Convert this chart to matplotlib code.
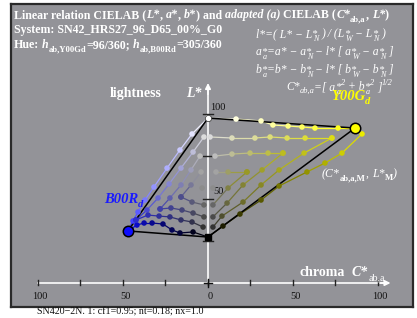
import matplotlib
matplotlib.use('Agg')
import matplotlib.pyplot as plt
from matplotlib.transforms import IdentityTransform
from matplotlib.collections import LineCollection
import numpy as np

W_PX, H_PX = 417, 318
SERIF = 'Liberation Serif'

# ---------------- data (C*ab,a ; L*) ----------------
# corner colours
W_pt = (0.0, 97.6)
N_pt = (0.0, 27.2)
Y_pt = (86.5, 91.7)
B_pt = (-47.1, 30.8)

# yellow hue (Y00Gd): rows from light greys, diagonals from dark greys
yR1_C = [0.0, 16.5, 31.2, 38.2, 47.1, 55.3, 62.9, 76.5, 86.5]
yR1_L = [97.6, 97.0, 95.9, 93.5, 92.9, 92.3, 91.7, 91.7, 91.7]
yR2_C = [1.2, 14.1, 27.6, 36.5, 46.5, 57.1, 72.9]
yR2_L = [86.4, 85.8, 85.8, 86.4, 85.8, 85.8, 85.8]
yR3_C = [4.1, 14.1, 24.7, 35.3, 44.1]
yR3_L = [75.1, 76.3, 76.9, 76.9, 76.9]
yR4_C = [4.7, 11.8, 22.9]
yR4_L = [65.7, 65.7, 65.7]
yD1_C = [0.0, 8.8, 18.8, 31.2, 41.8, 58.2, 68.8, 78.8, 90.6]
yD1_L = [27.2, 33.7, 40.8, 49.1, 57.4, 65.7, 71.0, 76.9, 88.2]
yD2_C = [2.9, 8.2, 20.6, 31.2, 41.8, 56.5, 72.9]
yD2_L = [33.1, 39.6, 47.9, 58.0, 66.9, 76.9, 85.8]
yD3_C = [2.9, 11.2, 20.6, 31.8, 44.1]
yD3_L = [39.1, 47.3, 58.0, 66.9, 76.9]
yD4_C = [2.9, 11.8, 22.9]
yD4_L = [46.2, 56.2, 65.7]

# blue hue (B00Rd)
bR1_C = [0.0, -9.4, -16.5, -24.1, -31.8, -37.1, -41.2, -44.1, -47.1]
bR1_L = [97.6, 88.2, 78.7, 68.0, 56.8, 49.1, 42.0, 36.7, 30.8]
bR2_C = [-2.4, -8.8, -15.9, -22.9, -29.4, -35.9, -42.4]
bR2_L = [86.4, 77.5, 68.0, 58.6, 50.3, 43.2, 37.3]
bR3_C = [-4.7, -10.0, -15.9, -22.4, -28.2]
bR3_L = [75.1, 66.9, 58.0, 50.3, 43.8]
bR4_C = [-4.1, -10.0, -15.9]
bR4_L = [65.7, 58.0, 50.9]
bD1_C = [0.0, -8.8, -16.5, -21.2, -26.5, -32.9, -37.6, -41.8, -45.3]
bD1_L = [27.2, 30.2, 29.6, 31.4, 34.9, 35.5, 35.5, 34.3, 32.0]
bD2_C = [-2.9, -9.4, -15.9, -22.4, -28.8, -35.3, -42.4]
bD2_L = [33.1, 36.1, 37.3, 39.1, 39.6, 40.2, 37.3]
bD3_C = [-2.4, -8.8, -15.3, -21.8, -28.2]
bD3_L = [39.1, 41.4, 43.2, 44.4, 43.8]
bD4_C = [-2.4, -9.4, -15.9]
bD4_L = [46.2, 47.9, 50.9]

mid_grey_C = [2.9, -3.5]
mid_grey_L = [56.2, 56.2]

x_ticks = [-100, -75, -50, -25, 0, 25, 50, 75, 100]
x_tick_labels = {-100: '100', -50: '50', 0: '0', 50: '50', 100: '100'}
y_ticks = [25, 50, 75, 100]
y_tick_labels = {50: '50', 100: '100'}

# ---------------- figure ----------------
fig = plt.figure(figsize=(W_PX / 100, H_PX / 100), dpi=100)
fig.patch.set_facecolor('white')
ax = fig.add_axes([11 / W_PX, (H_PX - 307) / H_PX, (413 - 11) / W_PX, (307 - 4) / H_PX])
ax.set_facecolor('#939398')
ax.set_xlim((11 - 208) / 1.7, (413 - 208) / 1.7)
ax.set_ylim((283 - 307) / 1.69, (283 - 4) / 1.69)
ax.set_xticks([])
ax.set_yticks([])
for sp in ax.spines.values():
    sp.set_color('#2a2a2a')
    sp.set_linewidth(1.6)

# axes
ax.plot([-100, 104], [0, 0], color='white', lw=1.2, zorder=2)
ax.annotate('', xy=(109, 0), xytext=(100, 0),
            arrowprops=dict(arrowstyle='-|>', color='white', lw=1.2, mutation_scale=8), zorder=2)
ax.plot([0, 0], [0, 114], color='white', lw=1.2, zorder=2)
ax.annotate('', xy=(0, 120), xytext=(0, 110),
            arrowprops=dict(arrowstyle='-|>', color='white', lw=1.2, mutation_scale=8), zorder=2)
for t in x_ticks:
    ax.plot([t, t], [-1.4, 1.6], color='#222222', lw=1.0, zorder=3)
    if t in x_tick_labels:
        ax.text(t + 1.2, -7.8, x_tick_labels[t], ha='center', va='center', fontsize=7.5,
                family=SERIF, color='#111111')
for t in y_ticks:
    ax.plot([-3.0, 3.0], [t, t], color='#222222', lw=1.0, zorder=3)
    if t in y_tick_labels:
        ax.text(1.3 if t == 100 else 3.0, t + 1.4, y_tick_labels[t], ha='left', va='bottom',
                fontsize=7.5, family=SERIF, color='#111111')
ax.plot([-2.5, 2.5], [0, 0], color='#111111', lw=1.0, zorder=3)
ax.plot([0, 0], [-2.5, 2.5], color='#111111', lw=1.0, zorder=3)


def grey(v):
    return (v, v, v)


def lattice_line(Cs, Ls, c0, c1, lw=0.9):
    Cs = np.asarray(Cs); Ls = np.asarray(Ls)
    n = len(Cs)
    c0 = np.array(c0); c1 = np.array(c1)
    cols = [tuple(c0 + (c1 - c0) * k / (n - 1)) for k in range(n)]
    segs = [[(Cs[k], Ls[k]), (Cs[k + 1], Ls[k + 1])] for k in range(n - 1)]
    segcols = [tuple((np.array(cols[k]) + np.array(cols[k + 1])) / 2) for k in range(n - 1)]
    ax.add_collection(LineCollection(segs, colors=segcols, linewidths=lw, zorder=4))
    ax.scatter(Cs, Ls, s=16, c=cols, edgecolors='none', zorder=6)


yel = {
    'R1': (yR1_C, yR1_L, (1, 1, 1), (1.0, 1.0, 0.0)),
    'R2': (yR2_C, yR2_L, grey(0.86), (0.87, 0.87, 0.08)),
    'R3': (yR3_C, yR3_L, grey(0.74), (0.74, 0.74, 0.12)),
    'R4': (yR4_C, yR4_L, grey(0.64), (0.60, 0.60, 0.15)),
    'D1': (yD1_C, yD1_L, (0, 0, 0), (0.92, 0.92, 0.0)),
    'D2': (yD2_C, yD2_L, grey(0.20), (0.87, 0.87, 0.08)),
    'D3': (yD3_C, yD3_L, grey(0.29), (0.74, 0.74, 0.12)),
    'D4': (yD4_C, yD4_L, grey(0.40), (0.60, 0.60, 0.15)),
}
blu = {
    'R1': (bR1_C, bR1_L, (1, 1, 1), (0.15, 0.15, 1.0)),
    'R2': (bR2_C, bR2_L, grey(0.86), (0.18, 0.18, 0.80)),
    'R3': (bR3_C, bR3_L, grey(0.74), (0.25, 0.25, 0.66)),
    'R4': (bR4_C, bR4_L, grey(0.64), (0.30, 0.30, 0.55)),
    'D1': (bD1_C, bD1_L, (0, 0, 0), (0.05, 0.05, 0.90)),
    'D2': (bD2_C, bD2_L, grey(0.20), (0.18, 0.18, 0.80)),
    'D3': (bD3_C, bD3_L, grey(0.29), (0.25, 0.25, 0.66)),
    'D4': (bD4_C, bD4_L, grey(0.40), (0.30, 0.30, 0.55)),
}
for d in (yel, blu):
    for key, (cs, ls, c0, c1) in d.items():
        lattice_line(cs, ls, c0, c1)
ax.scatter(mid_grey_C, mid_grey_L, s=16, c=[grey(0.55)] * 2, edgecolors='none', zorder=6)

# black frame lines
for P in (Y_pt, B_pt):
    ax.plot([W_pt[0], P[0]], [W_pt[1], P[1]], color='black', lw=1.1, zorder=5)
    ax.plot([N_pt[0], P[0]], [N_pt[1], P[1]], color='black', lw=1.1, zorder=5)

ax.plot(*Y_pt, marker='o', ms=7.5, mfc=(1, 1, 0), mec='black', mew=1.1, zorder=8)
ax.plot(*B_pt, marker='o', ms=7.5, mfc=(0.05, 0.05, 1), mec='black', mew=1.1, zorder=8)
ax.plot(*N_pt, marker='s', ms=4.5, mfc='black', mec='black', zorder=8)
ax.plot(*W_pt, marker='o', ms=4.5, mfc='white', mec='#444444', mew=0.6, zorder=8)

# ---------------- text runs ----------------
renderer = fig.canvas.get_renderer()
STY = {'r': ('normal', 'normal'), 'b': ('bold', 'normal'),
       'i': ('normal', 'italic'), 'bi': ('bold', 'italic')}


def put(x, y, s, style, size, color):
    w, st = STY[style]
    return fig.text(x, H_PX - y, s, transform=IdentityTransform(), fontsize=size,
                    fontweight=w, fontstyle=st, family=SERIF, color=color,
                    va='baseline', ha='left', zorder=10)


def width(t):
    return t.get_window_extent(renderer=renderer).width


def runs(x, y, parts, size, color='white'):
    px = size * 100 / 72
    cur = x
    for p in parts:
        if p[0] == '#stack':
            _, sup, sub, style = p
            t1 = put(cur, y - 0.05 * px, sup, style, size * 0.9, color)
            t2 = put(cur + 0.08 * px, y + 0.36 * px, sub, style, size * 0.7, color)
            cur += max(width(t1), width(t2) + 0.08 * px)
            continue
        s, style = p[0], p[1]
        pos = p[2] if len(p) > 2 else 'n'
        sz = size if pos == 'n' else size * 0.72
        dy = {'n': 0, 'sub': 0.28 * px, 'sup': -0.42 * px}[pos]
        lead = len(s) - len(s.lstrip(' '))
        trail = len(s) - len(s.rstrip(' '))
        sw = 0.25 * sz * 100 / 72
        cur += lead * sw
        core = s.strip(' ')
        if core:
            t = put(cur, y + dy, core, style, sz, color)
            cur += width(t)
        cur += trail * sw
    return cur


HS = 8.6
runs(14, 18, [("Linear relation CIELAB (", 'b'), ("L*", 'bi'), (", ", 'b'), ("a*", 'bi'),
              (", ", 'b'), ("b*", 'bi'), (") and ", 'b'), ("adapted (a)", 'bi'),
              (" CIELAB (", 'b'), ("C*", 'bi'), ("ab,a", 'b', 'sub'), (", ", 'b'),
              ("L*", 'bi'), (")", 'b')], HS)
runs(14, 33, [("System: SN42_HRS27_96_D65_00%_G0", 'b')], HS)
runs(14, 48, [("Hue: ", 'b'), ("h", 'bi'), ("ab,Y00Gd", 'b', 'sub'), ("=96/360; ", 'b'),
              ("h", 'bi'), ("ab,B00Rd", 'b', 'sub'), ("=305/360", 'b')], HS)

FS = 8.4
runs(256, 37, [("l*=( L* − L", 'i'), ('#stack', '*', 'N', 'i'), (" ) / (L", 'i'),
               ('#stack', '*', 'W', 'i'), (" − L", 'i'), ('#stack', '*', 'N', 'i'), (" )", 'i')], FS)
runs(256, 55, [("a", 'i'), ('#stack', '*', 'a', 'i'), ("=a* − a", 'i'), ('#stack', '*', 'N', 'i'),
               (" − l* [ a", 'i'), ('#stack', '*', 'W', 'i'), (" − a", 'i'),
               ('#stack', '*', 'N', 'i'), (" ]", 'i')], FS)
runs(256, 73, [("b", 'i'), ('#stack', '*', 'a', 'i'), ("=b* − b", 'i'), ('#stack', '*', 'N', 'i'),
               (" − l* [ b", 'i'), ('#stack', '*', 'W', 'i'), (" − b", 'i'),
               ('#stack', '*', 'N', 'i'), (" ]", 'i')], FS)
runs(286, 90, [("C*", 'i'), ("ab,a", 'i', 'sub'), ("=[ a", 'i'), ('#stack', '*', 'a', 'i'),
               ("2", 'i', 'sup'), (" + b", 'i'), ('#stack', '*', 'a', 'i'), ("2", 'i', 'sup'),
               (" ]", 'i'), ("1/2", 'i', 'sup')], FS)

runs(110, 97, [("lightness", 'b')], 10)
runs(186, 97, [("L*", 'bi')], 10)
runs(300, 276, [("chroma", 'b')], 10)
runs(352, 276, [("C*", 'bi'), ("ab,a", 'r', 'sub')], 10)
runs(331, 100, [("Y00G", 'bi'), ("d", 'bi', 'sub')], 10.5, color=(1.0, 1.0, 0.0))
runs(104, 203, [("B00R", 'bi'), ("d", 'bi', 'sub')], 10.5, color=(0.1, 0.1, 1.0))
runs(322, 177, [("(C*", 'i'), ("ab,a,M", 'b', 'sub'), (", ", 'i'), ("L*", 'i'),
                ("M", 'b', 'sub'), (")", 'i')], 8.6)
runs(37, 315, [("SN420−2N. 1: cf1=0.95; nt=0.18; nx=1.0", 'r')], 7.2, color='#111111')

fig.savefig('out.png', dpi=100, facecolor='white')
